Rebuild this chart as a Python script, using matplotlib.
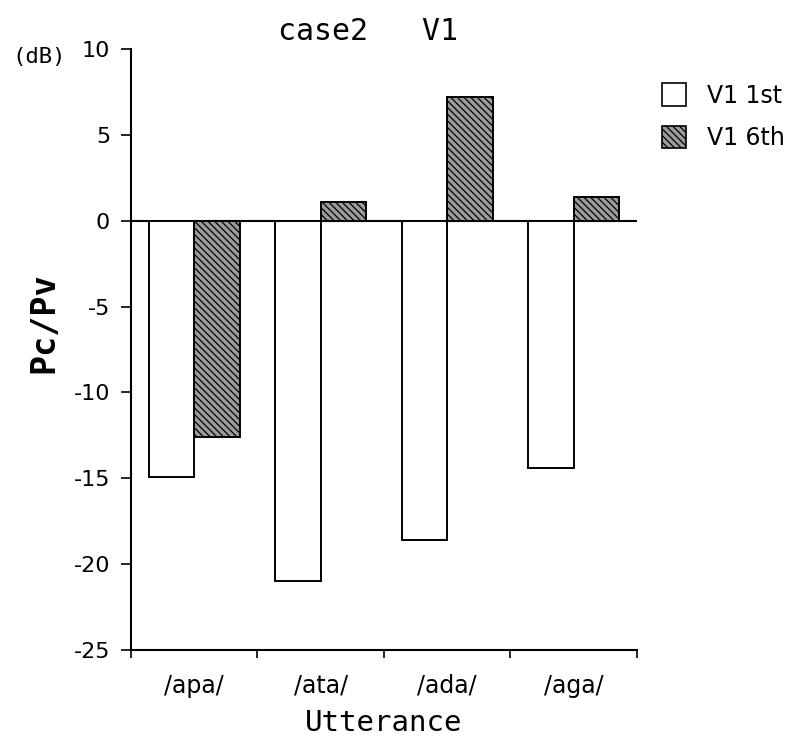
import matplotlib
matplotlib.use("Agg")
import matplotlib.pyplot as plt
from matplotlib import font_manager
from matplotlib.patches import Patch
import numpy as np

# Pc/Pv ratio per utterance, first and sixth repetition of V1
utterances = ['/apa/', '/ata/', '/ada/', '/aga/']
v1_1st = [-14.9, -21.0, -18.6, -14.4]
v1_6th = [-12.6, 1.1, 7.2, 1.4]
series_labels = ['V1 1st', 'V1 6th']
yticks = [-25, -20, -15, -10, -5, 0, 5, 10]

# narrow face for the tick numbers if the system has one
names = {f.name for f in font_manager.fontManager.ttflist}
narrow = 'Liberation Sans Narrow' if 'Liberation Sans Narrow' in names else 'DejaVu Sans'
mono = 'DejaVu Sans Mono'

plt.rcParams['hatch.linewidth'] = 0.9

fig = plt.figure(figsize=(8.01, 7.40), dpi=100)
ax = fig.add_axes([0.1635, 0.1216, 0.6317, 0.8122])

x = np.arange(len(utterances)) + 0.5
w = 0.36
ax.axhline(0, color='black', lw=1.5, zorder=1)
ax.bar(x - w/2, v1_1st, w, facecolor='white', edgecolor='black', lw=1.4, zorder=2)
ax.bar(x + w/2, v1_6th, w, facecolor='#9c9c9c', edgecolor='black', lw=1.4,
       hatch='\\\\\\\\\\', zorder=2)

ax.set_xlim(0, 4)
ax.set_ylim(-25, 10)
ax.spines['top'].set_visible(False)
ax.spines['right'].set_visible(False)
ax.spines['left'].set_linewidth(1.5)
ax.spines['bottom'].set_linewidth(1.5)

ax.set_yticks(yticks)
ax.set_yticklabels([str(v) for v in yticks], family=narrow, fontsize=16)
ax.tick_params(axis='y', length=7, width=1.2, pad=8)

ax.set_xticks(np.arange(0, 5))
ax.set_xticklabels([])
ax.set_xticks(x, minor=True)
ax.set_xticklabels(utterances, minor=True, family=narrow, fontsize=17)
ax.tick_params(axis='x', which='major', length=6, width=1.2)
ax.tick_params(axis='x', which='minor', length=0, pad=17)

ax.set_xlabel('Utterance', family=mono, fontsize=21, labelpad=8)
ax.set_ylabel('Pc/Pv', family=mono, fontsize=24, fontweight='bold')
ax.yaxis.set_label_coords(-0.14, 0.545)

fig.text(0.459, 0.958, 'case2   V1', family=mono, fontsize=21.5, ha='center', va='center')
fig.text(0.015, 0.923, '(dB)', family=mono, fontsize=16, ha='left', va='center')

handles = [Patch(facecolor='white', edgecolor='black', lw=1.2),
           Patch(facecolor='#9c9c9c', edgecolor='black', lw=1.2, hatch='\\\\\\\\\\')]
fig.legend(handles, series_labels, loc='upper left', bbox_to_anchor=(0.815, 0.9),
           frameon=False, prop={'family': narrow, 'size': 17},
           handlelength=1.0, handleheight=1.1, handletextpad=0.9, labelspacing=0.75,
           borderaxespad=0)

fig.savefig('out.png', dpi=100)
